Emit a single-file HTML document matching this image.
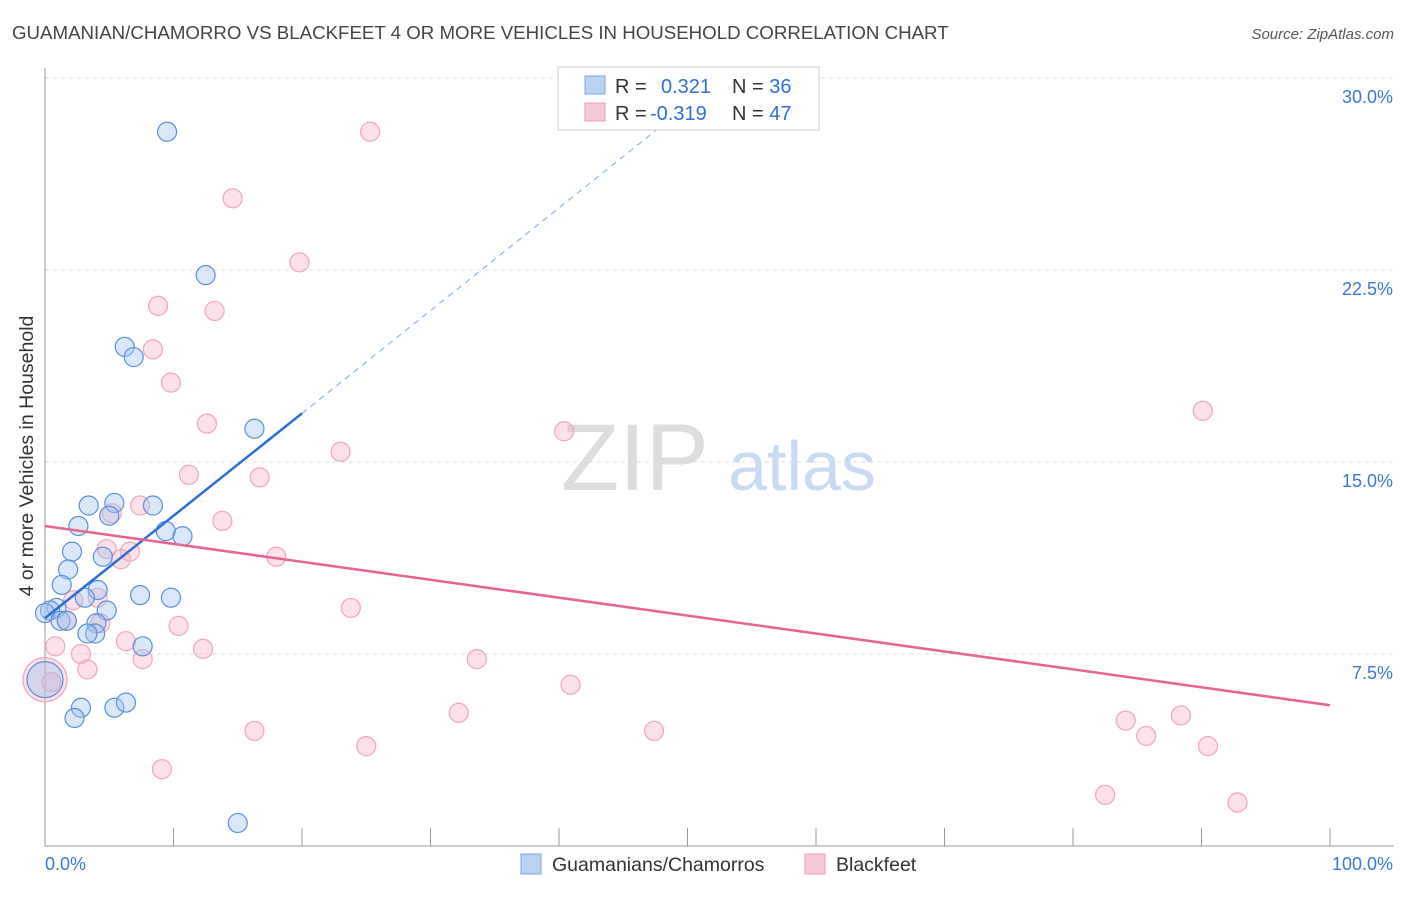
<!DOCTYPE html>
<html><head><meta charset="utf-8"><style>
body{margin:0;background:#fff;font-family:"Liberation Sans",sans-serif}
svg text{font-family:"Liberation Sans",sans-serif}
</style></head><body>
<svg id="c" width="1406" height="892">
<text x="12" y="39" font-size="18.7" fill="#444">GUAMANIAN/CHAMORRO VS BLACKFEET 4 OR MORE VEHICLES IN HOUSEHOLD CORRELATION CHART</text>
<text x="1394" y="39" font-size="15" fill="#555" font-style="italic" text-anchor="end">Source: ZipAtlas.com</text>
<text x="33" y="456" font-size="19.5" fill="#333" text-anchor="middle" transform="rotate(-90 33 456)">4 or more Vehicles in Household</text>
<g><text x="635" y="490" font-size="95" fill="#ddd" text-anchor="middle" font-family="Liberation Serif">ZIP</text><text x="802" y="490" font-size="70" fill="#c8daf2" text-anchor="middle">atlas</text></g>
<g id="grid"></g><g id="marks"></g>
<g>
<rect x="558" y="67" width="261" height="63" fill="#fff" stroke="#ccc"/>
<rect x="585" y="76" width="20" height="18" fill="#b9d3f3" stroke="#7aa6e0"/>
<rect x="585" y="103" width="20" height="18" fill="#f9c8d6" stroke="#eb9ab2"/>
<text x="615" y="93" font-size="20" fill="#333">R = <tspan x="661" fill="#2f6fd6">0.321</tspan></text>
<text x="732" y="93" font-size="20" fill="#333">N = <tspan fill="#2f6fd6">36</tspan></text>
<text x="615" y="120" font-size="20" fill="#333">R = <tspan x="650" fill="#2f6fd6">-0.319</tspan></text>
<text x="732" y="120" font-size="20" fill="#333">N = <tspan fill="#2f6fd6">47</tspan></text>
</g>
<g>
<rect x="521" y="854" width="20" height="20" fill="#b9d3f3" stroke="#7aa6e0"/>
<text x="552" y="871" font-size="19.5" fill="#333">Guamanians/Chamorros</text>
<rect x="805" y="854" width="20" height="20" fill="#f9c8d6" stroke="#eb9ab2"/>
<text x="836" y="871" font-size="19.5" fill="#333">Blackfeet</text>
</g>
</svg>
<script>
const yTicks=[7.5,15,22.5,30];
const yTickLabels=["7.5%","15.0%","22.5%","30.0%"];
const blueX=[9.5,12.5,6.2,6.9,16.3,3.4,5.4,8.4,5.0,2.6,9.4,10.7,2.1,4.5,1.8,1.3,4.1,7.4,9.8,3.1,4.8,0.9,0.4,0,1.2,1.7,4.0,3.9,3.3,7.6,0,2.8,5.4,6.3,2.3,15.0];
const blueY=[27.9,22.3,19.5,19.1,16.3,13.3,13.4,13.3,12.9,12.5,12.3,12.1,11.5,11.3,10.8,10.2,10.0,9.8,9.7,9.7,9.2,9.3,9.2,9.1,8.8,8.8,8.7,8.3,8.3,7.8,6.5,5.4,5.4,5.6,5.0,0.9];
const pinkX=[25.3,14.6,19.8,8.8,13.2,8.4,9.8,12.6,23.0,40.4,90.1,11.2,16.7,7.4,5.2,13.8,4.8,6.6,5.9,18.0,2.2,4.1,1.7,4.3,10.4,23.8,0.8,6.3,12.3,2.8,7.6,33.6,3.3,0,40.9,32.2,84.1,88.4,85.7,16.3,47.4,25.0,90.5,9.1,82.5,92.8,0.5];
const pinkY=[27.9,25.3,22.8,21.1,20.9,19.4,18.1,16.5,15.4,16.2,17.0,14.5,14.4,13.3,13.0,12.7,11.6,11.5,11.2,11.3,9.6,9.7,8.8,8.7,8.6,9.3,7.8,8.0,7.7,7.5,7.3,7.3,6.9,6.5,6.3,5.2,4.9,5.1,4.3,4.5,4.5,3.9,3.9,3.0,2.0,1.7,6.4];
const blueLine=[[0,8.9],[20,16.9]], blueDash=[[20,16.9],[49.4,28.7]];
const pinkLine=[[0,12.5],[100,5.5]];
const X=v=>45+v/100*1285, Y=v=>846-v/30*768;
const NS="http://www.w3.org/2000/svg";
const g=document.getElementById('grid'), m=document.getElementById('marks');
function el(t,a,p){const e=document.createElementNS(NS,t);for(const k in a)e.setAttribute(k,a[k]);p.appendChild(e);return e;}
yTicks.forEach((t,i)=>{
 const l=el('line',{x1:45,x2:1394,y1:Y(t),y2:Y(t),stroke:'#ddd','stroke-dasharray':'4,4'},g);
 
 
 const tx=el('text',{x:1393,y:Y(t)+25,'font-size':18,fill:'#3b78d8','text-anchor':'end'},g);
 tx.textContent=yTickLabels[i];
 
 
});
const ax=el('line',{x1:45,x2:45,y1:68,y2:846,stroke:'#999'},g);


const bx=el('line',{x1:45,x2:1394,y1:846,y2:846,stroke:'#999'},g);


for(let i=0;i<=10;i++){const t=el('line',{x1:X(i*10),x2:X(i*10),y1:828,y2:846,stroke:'#999'},g);
 
 }
[["0.0%",45,'start'],["100.0%",1393,'end']].forEach(a=>{const t=el('text',{x:a[1],y:870,'font-size':18,fill:'#3b78d8','text-anchor':a[2]},g);t.textContent=a[0];
 
 });
pinkX.forEach((v,i)=>{const r=(i==33)?22:9.5;const c=el('circle',{cx:X(v),cy:Y(pinkY[i]),r:r,fill:'rgba(246,170,195,0.35)',stroke:'#eea6bc','stroke-width':1.2},m);
 
 });
blueX.forEach((v,i)=>{const r=(i==30)?18:9.5;const c=el('circle',{cx:X(v),cy:Y(blueY[i]),r:r,fill:'rgba(160,195,240,0.4)',stroke:'#5b8fdb','stroke-width':1.2},m);
 
 });
const bl=el('line',{x1:X(blueLine[0][0]),y1:Y(blueLine[0][1]),x2:X(blueLine[1][0]),y2:Y(blueLine[1][1]),stroke:'#2b6fd6','stroke-width':2.5},m);


const bd=el('line',{x1:X(blueDash[0][0]),y1:Y(blueDash[0][1]),x2:X(blueDash[1][0]),y2:Y(blueDash[1][1]),stroke:'#8fb3e8','stroke-width':1.2,'stroke-dasharray':'6,5'},m);


const pl=el('line',{x1:X(pinkLine[0][0]),y1:Y(pinkLine[0][1]),x2:X(pinkLine[1][0]),y2:Y(pinkLine[1][1]),stroke:'#e8638f','stroke-width':2.5},m);


</script>
</body></html>
